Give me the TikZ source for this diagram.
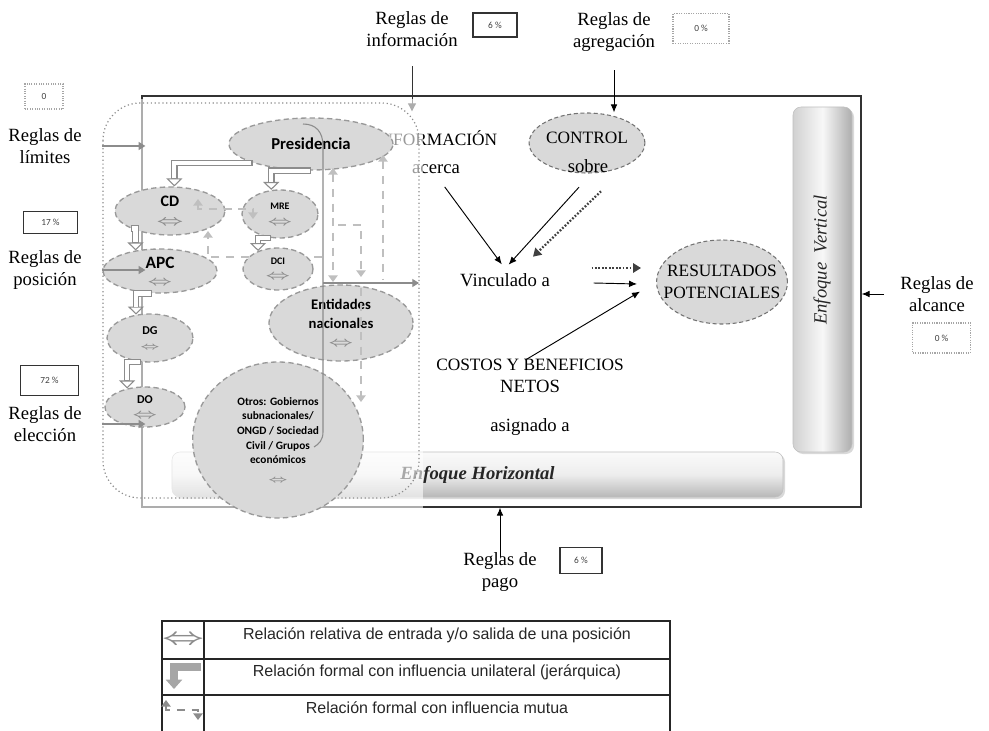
\documentclass[tikz,border=0pt]{standalone}
\usepackage{fontspec}
\setmainfont{Liberation Serif}
\newfontfamily\calibri{Carlito}
\newfontfamily\arialf{Liberation Sans}
\usepackage{graphicx}
\usetikzlibrary{positioning,arrows.meta,shapes.geometric,shadows}

\newcommand{\io}[1][11]{{\color{black!45}\fontsize{#1}{#1}\selectfont\scalebox{1.6}[1]{\boldmath$\Leftrightarrow$}}}
\newcommand{\capsz}{\fontsize{13}{16}\selectfont}
\newcommand{\posf}[2]{\calibri\bfseries\fontsize{#1}{#2}\selectfont}

\begin{document}
\begin{tikzpicture}[
  x=0.75pt, y=-0.75pt,
  font=\fontsize{14}{17}\selectfont,
  >=Latex,
  mt/.tip={Triangle[width=7pt,length=5pt]},
  rule/.style={align=center, inner sep=1pt},
  pct/.style={draw=black!80, line width=0.8pt, inner sep=0pt,
              font=\calibri\fontsize{7}{8}\selectfont, text=black!75},
  pctd/.style={pct, draw=black!35, densely dotted},
  actor/.style={ellipse, draw=black!40, dash pattern=on 4pt off 2.5pt, line width=1pt,
              fill=black!15, inner sep=0pt, align=center},
  cpt/.style={ellipse, draw=black!55, dash pattern=on 3pt off 2pt, line width=0.8pt,
              fill=black!15, inner sep=0pt, align=center, font=\capsz},
  ar/.style={-{Latex[length=6pt,width=5pt]}, line width=0.7pt},
  dar/.style={-{Triangle[width=7pt,length=6pt]}, line width=1.7pt,
              dash pattern=on 1.3pt off 1.3pt, black!75},
  gar/.style={-{Triangle[width=6pt,length=5pt]}, black!45, line width=0.9pt},
  hier/.style={black!45, line width=5pt,
               -{Triangle[open, fill=white, line width=0.8pt, width=12pt, length=6pt]},
               postaction={draw=white, line width=3.2pt, -, shorten >=6pt, shorten <=0.8pt}},
  mut/.style={black!25, line width=1.8pt, dash pattern=on 6pt off 5pt},
  bar/.style={rounded corners=6pt, draw=black!25,
              drop shadow={opacity=0.3, shadow xshift=1.5pt, shadow yshift=-1.5pt}},
  tabline/.style={black!85, line width=1.3pt},
  legtxt/.style={font=\arialf\fontsize{12}{14}\selectfont, text=black!85},
]
  \useasboundingbox (0,0) rectangle (989,731);

  % frame and the two approaches
  \node[draw=black!80, line width=1pt, inner sep=0pt, minimum width=539.25pt,
        minimum height=308.25pt] (frame) at (501.5,301.5) {};
  \node[bar, top color=black!2, bottom color=black!28, middle color=black!7,
        minimum width=458.25pt, minimum height=33.75pt,
        font=\fontsize{14}{17}\selectfont\bfseries\itshape,
        text=black!85] (horiz) at (477.5,474.5) {Enfoque Horizontal};
  \node[bar, left color=black!18, right color=black!32, middle color=black!3,
        minimum width=44.25pt, minimum height=258.75pt] (vert) at (822.5,279.5) {};
  \node[rotate=90, font=\fontsize{14}{17}\selectfont\itshape, text=black!85] (vlab)
        at (822,260) {Enfoque\ \ Vertical};

  \node[rule] (info) at (436,152) {{\capsz INFORMACIÓN}\\[4pt]acerca};
  \node[rule] (rinfo) at (412,29) {Reglas de\\información};
  \node[pct, minimum width=33pt, minimum height=18pt] (pinfo) at (495,25) {6 \%};
  \draw[ar, black!80, -{Triangle[width=6pt,length=6pt]}, shorten <=13.5pt, shorten >=-12pt]
        (rinfo.south) -- (rinfo.south |- frame.north);

  % actors (left block)
  \fill[white, opacity=0.6] (103,99) rectangle (423,512);
  \draw[black!45, dotted, line width=0.9pt, rounded corners=28pt] (103,103) rectangle (419,498);

  \draw[mut, -{mt}] (322,257) -- (208,257) -- (208,231);

  \node[actor, minimum width=123pt, minimum height=39pt, font=\posf{12.5}{15}] (pres) at (311,144) {Presidencia};
  \node[actor, minimum width=82.5pt, minimum height=36pt, font=\posf{12}{14}] (cd) at (170,211) {CD\\\io};
  \node[actor, minimum width=57pt, minimum height=36pt, font=\posf{7.5}{12}] (mre) at (280,214) {MRE\\\io[10]};
  \node[actor, minimum width=85.5pt, minimum height=33pt, font=\posf{13}{13}] (apc) at (160,271) {APC\\\io[10]};
  \node[actor, minimum width=52.5pt, minimum height=31.5pt, font=\posf{7.5}{11.5}] (dci) at (278,269) {DCI\\\io[10]};
  \node[actor, minimum width=64.5pt, minimum height=36pt, font=\posf{9}{11}] (dg) at (150,338) {DG\\\io[7.5]};
  \node[actor, minimum width=60pt, minimum height=30pt, font=\posf{9}{11}] (dop) at (145,407) {DO\\\io[10]};
  \node[actor, minimum width=108pt, minimum height=57pt, font=\posf{11}{14}] (ent) at (341,323)
        {Entidades\\nacionales\\\io[10]};
  \node[actor, minimum width=128pt, minimum height=117pt, font=\posf{8.5}{11}] (otros) at (278,440)
        {Otros: Gobiernos\\subnacionales/\\ONGD / Sociedad\\Civil / Grupos\\económicos\\[3pt]\io[7.5]};

  \draw[hier] (pres.south west) -| (cd.80);
  \draw[hier] (pres.south) -| (mre.110);
  \draw[hier] (cd.south west) -| (apc.140);
  \draw[hier] (mre.250) -| (dci.138);
  \draw[hier] (apc.250) -| (dg.121);
  \draw[hier] (dg.250) -| (dop.134);

  \draw[mut, {mt}-{mt}] (198,199) -- (198,209) -- (253,209) -- (253,219);
  \draw[mut, {mt}-{mt}] (333,168) -- (333,282);
  \draw[mut, -{mt}] (338,225) -| (361,277);
  \draw[mut, -{mt}] (361,288) -- (361,402);
  \draw[mut, {mt}-] (383,155) -- (383,280);

  \draw[black!45, line width=0.8pt] (303,124) .. controls (316,124) and (323,132) .. (323,146)
        -- (323,432) .. controls (323,440) and (319,444) .. (314,447);
  \coordinate (split) at (323,283);
  \coordinate (edge) at (419,283);
  \draw[gar] (split) -- (edge);

  \node[rule] (rlim) at (45,146) {Reglas de\\límites};
  \node[pctd, minimum width=28.5pt, minimum height=18.75pt] (plim) at (44,96.5) {0};
  \node[rule] (rpos) at (45,270) {Reglas de\\posición};
  \node[pct, minimum width=41pt, minimum height=17pt] (ppos) at (50.5,222.5) {17 \%};
  \node[rule] (relec) at (45,424) {Reglas de\\elección};
  \node[pct, minimum width=43pt, minimum height=22pt] (pelec) at (49.5,380.5) {72 \%};
  \draw[gar, shorten <=14pt, shorten >=-3pt] (rlim.east) -- (rlim.east -| frame.west);
  \draw[gar, shorten <=14pt, shorten >=-3pt] (rpos.east) -- (rpos.east -| frame.west);
  \draw[gar, shorten <=14pt, shorten >=-3pt] (relec.east) -- (relec.east -| frame.west);

  % control, link and results
  \node[cpt, minimum width=85.5pt, minimum height=45pt, text depth=7.5pt] (ctrl) at (587,143) {CONTROL};
  \node (sobre) at (588,166) {sobre};
  \node[rule] (ragr) at (614,32) {Reglas de\\agregación};
  \node[pctd, minimum width=42pt, minimum height=22pt] (pagr) at (701,28.5) {0 \%};
  \draw[ar, shorten <=12.5pt] (ragr.south) -- (ragr.south |- ctrl.north);

  \node (vinc) at (505,280) {Vinculado a};
  \node[cpt, inner xsep=-9pt, minimum width=97.5pt, minimum height=63pt] (res) at (722,282)
        {RESULTADOS\\POTENCIALES};
  \node[rule] (costos) at (530,376) {\capsz COSTOS Y BENEFICIOS\\NETOS};
  \node (asig) at (530,427) {asignado a};

  \draw[ar, shorten <=11pt, shorten >=4pt] (info.south) -- (vinc.north);
  \draw[ar, shorten <=10pt, shorten >=4pt] (sobre.south) -- (vinc.north);
  \draw[dar] ([shift={(13,14)}]sobre.south) -- ([shift={(28,-12)}]vinc.north);
  \draw[dar] ([shift={(37,-12)}]vinc.east) -- ([shift={(-15,-14)}]res.west);
  \draw[ar] ([shift={(39,3)}]vinc.east) -- ([shift={(-19,2)}]res.west);
  \draw[ar, shorten <=-4pt, shorten >=14pt] (costos.north) -- (res.west);

  \node[rule] (ralc) at (937,294) {Reglas de\\alcance};
  \node[pctd, minimum width=43pt, minimum height=22.5pt] (palc) at (941.5,338) {0 \%};
  \draw[ar, shorten <=11pt] (ralc.west) -- (ralc.west -| frame.east);

  \node[rule] (rpago) at (500,572) {Reglas de\\pago};
  \node[pct, minimum width=31.5pt, minimum height=19pt] (ppago) at (581,560.5) {6 \%};
  \draw[ar, shorten <=-5pt] (rpago.north) -- (rpago.north |- frame.south);

  % legend
  \draw[tabline] (162,731) |- (670,621) -- (670,731);
  \draw[tabline] (204,621) -- (204,731);
  \draw[tabline] (162,659) -- (670,659);
  \draw[tabline] (162,695) -- (670,695);
  \node[legtxt] (leg1) at (437,635) {Relación relativa de entrada y/o salida de una posición};
  \node[legtxt] (leg2) at (437,672) {Relación formal con influencia unilateral (jerárquica)};
  \node[legtxt] (leg3) at (437,708) {Relación formal con influencia mutua};
  \node[inner sep=0pt] (sym1) at (183,640) {\io[17]};
  \draw[black!35, line width=5.5pt, -{Triangle[width=12pt,length=7pt]}] (201,667) -| (174,689);
  \draw[mut, black!45, {mt}-{mt}] (166,700) -- (166,710) -- (198,710) -- (198,720);
\end{tikzpicture}
\end{document}
